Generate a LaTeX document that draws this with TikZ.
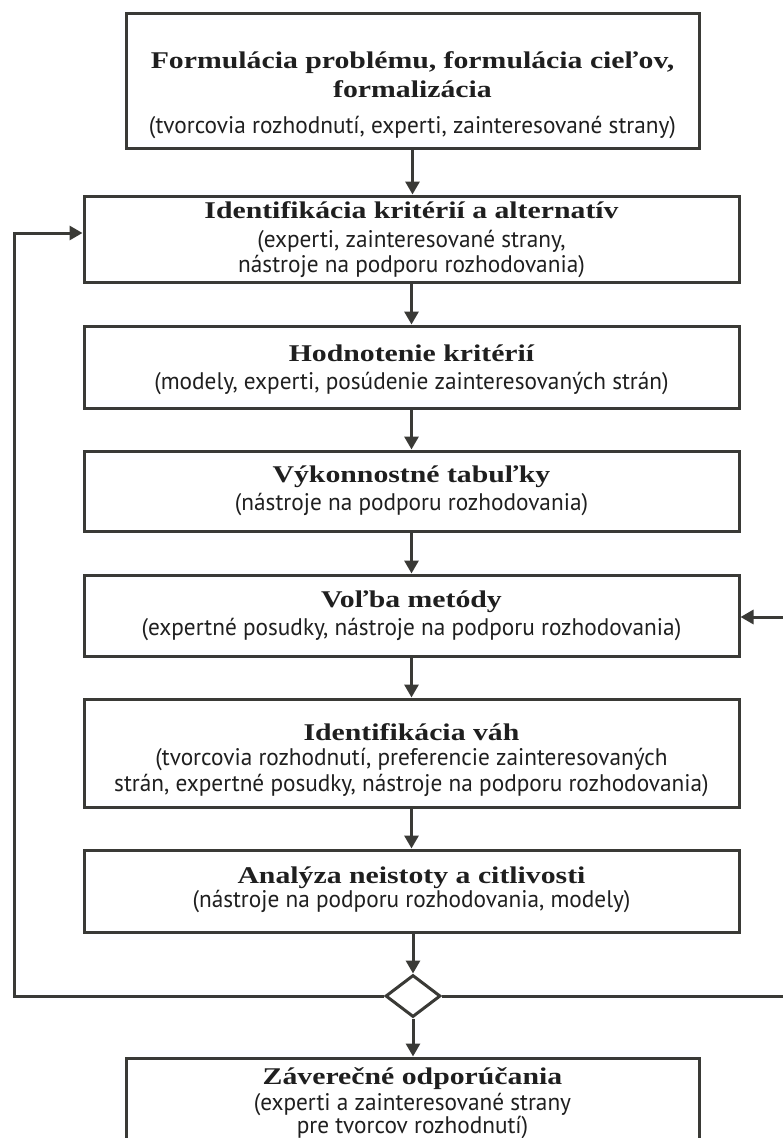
\documentclass[tikz,border=0pt]{standalone}
\usepackage{fontspec}
\setmainfont{Liberation Serif}
\newfontfamily\ttlfont[FakeStretch=1.24]{Liberation Serif}
\newfontfamily\subfont[FakeStretch=0.97]{PT Sans}
\usetikzlibrary{arrows.meta,shapes.geometric}
\definecolor{ln}{RGB}{58,58,54}
\newcommand\ttl{\ttlfont\bfseries\fontsize{24}{28}\selectfont}
\newcommand\sbf{\subfont\fontsize{24}{25.5}\selectfont}
\begin{document}
\begin{tikzpicture}[x=1pt,y=-1pt,
  stepbox/.style={draw=ln, line width=3pt, inner sep=0pt, fill=white},
  widebox/.style={stepbox, minimum width=655pt},
  narrowbox/.style={stepbox, minimum width=573pt},
  txt/.style={align=center, inner sep=0pt, font=\sbf, text=black!88},
  arr/.style={draw=ln, line width=3pt, -{Triangle[length=13pt,width=14pt]}},
  lin/.style={draw=ln, line width=3pt}]
\useasboundingbox (0,0) rectangle (783,1138);
\clip (0,0) rectangle (783,1138);
\fill[white] (0,0) rectangle (783,1138);

\node[narrowbox, minimum height=135pt] (b1) at (412.5,80.5) {};
\node[widebox, minimum height=86pt] (b2) at (411.5,239) {};
\node[widebox, minimum height=82pt] (b3) at (411.5,367) {};
\node[widebox, minimum height=80pt] (b4) at (411.5,491) {};
\node[widebox, minimum height=81pt] (b5) at (411.5,615.5) {};
\node[widebox, minimum height=108pt] (b6) at (411.5,753) {};
\node[widebox, minimum height=82pt] (b7) at (411.5,891) {};
\node[narrowbox, minimum height=100pt] (b8) at (412.5,1108) {};
\node[diamond, draw=ln, line width=3pt, fill=white, inner sep=0pt,
      minimum width=55pt, minimum height=42pt] (d) at (413,996) {};

\node[txt] (t1) at (412.5,95) {{\ttl Formulácia problému, formulácia cieľov,}\\[3.5pt]
  {\ttl formalizácia}\\[10pt](tvorcovia rozhodnutí, experti, zainteresované strany)};
\node[txt] (t2) at (411.5,240) {{\ttl Identifikácia kritérií a alternatív}\\[3pt]
  (experti, zainteresované strany,\\nástroje na podporu rozhodovania)};
\node[txt] (t3) at (411.5,370) {{\ttl Hodnotenie kritérií}\\[2pt]
  (modely, experti, posúdenie zainteresovaných strán)};
\node[txt] (t4) at (411.5,491) {{\ttl Výkonnostné tabuľky}\\[2pt]
  (nástroje na podporu rozhodovania)};
\node[txt] (t5) at (411.5,616) {{\ttl Voľba metódy}\\[2pt]
  (expertné posudky, nástroje na podporu rozhodovania)};
\node[txt] (t6) at (411.5,760) {{\ttl Identifikácia váh}\\[0pt]
  (tvorcovia rozhodnutí, preferencie zainteresovaných\\strán, expertné posudky, nástroje na podporu rozhodovania)};
\node[txt] (t7) at (411.5,890) {{\ttl Analýza neistoty a citlivosti}\\[-2pt]
  (nástroje na podporu rozhodovania, modely)};
\node[txt] (t8) at (412.5,1103) {{\ttl Záverečné odporúčania}\\[1pt]
  (experti a zainteresované strany\\[-3pt]pre tvorcov rozhodnutí)};

\coordinate (lc) at (14,996);
\coordinate (rc) at (792,996);

\draw[arr] (b1.south) -- (b1.south |- b2.north);
\draw[arr] (b2.south) -- (b2.south |- b3.north);
\draw[arr] (b3.south) -- (b3.south |- b4.north);
\draw[arr] (b4.south) -- (b4.south |- b5.north);
\draw[arr] (b5.south) -- (b5.south |- b6.north);
\draw[arr] (b6.south) -- (b6.south |- b7.north);
\draw[arr] (b7.south -| d.north) -- (d.north);
\draw[arr] (d.south) -- (d.south |- b8.north);
\draw[arr] (d.west) -- (lc) |- ([yshift=6pt]b2.west);
\draw[arr] (d.east) -- (rc) |- ([yshift=-1.5pt]b5.east);
\end{tikzpicture}
\end{document}
